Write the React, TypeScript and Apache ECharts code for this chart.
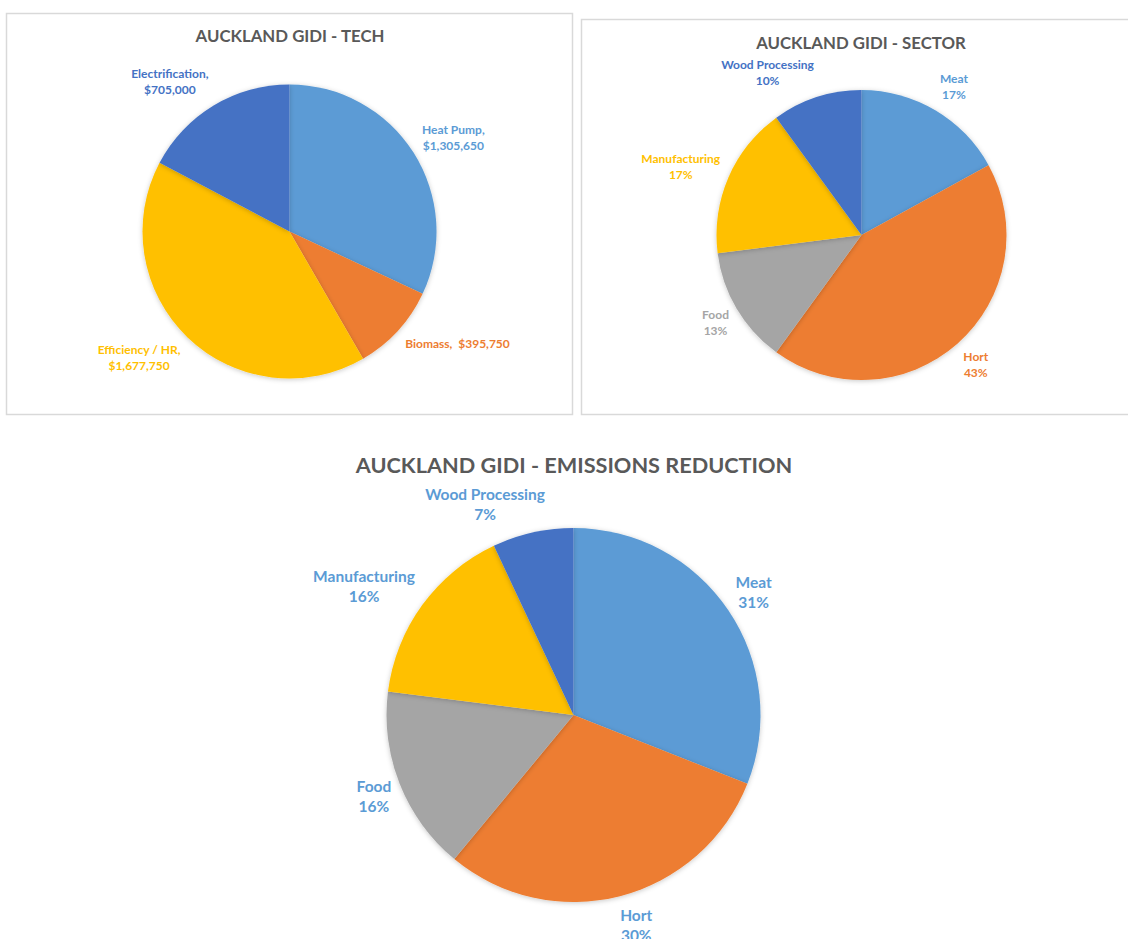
import { useEffect, useRef } from "react";
import * as echarts from "echarts";

// Funding by technology (NZD)
const techNames = ["Heat Pump", "Biomass", "Efficiency / HR", "Electrification"];
const techValues = [1305650, 395750, 1677750, 705000];
const techColors = ["#5B9BD5", "#ED7D31", "#FFC000", "#4472C4"];
// labels that stay on one line
const techOneLine = ["Biomass"];

// Sector split and emissions reduction split (%)
const sectorNames = ["Meat", "Hort", "Food", "Manufacturing", "Wood Processing"];
const sectorShares = [17, 43, 13, 17, 10];
const emissionShares = [31, 30, 16, 16, 7];
const sectorColors = ["#5B9BD5", "#ED7D31", "#A5A5A5", "#FFC000", "#4472C4"];

const titles = [
  "AUCKLAND GIDI - TECH",
  "AUCKLAND GIDI - SECTOR",
  "AUCKLAND GIDI - EMISSIONS REDUCTION",
];

const FONT = "Lato, 'Open Sans', sans-serif";
const TITLE_COLOR = "#595959";

let measureCtx: CanvasRenderingContext2D | null = null;

// Size of a (possibly multi-line) label block.
function textBox(text: string, font: string, lineHeight: number) {
  if (!measureCtx) measureCtx = document.createElement("canvas").getContext("2d");
  const lines = text.split("\n");
  let w = 0;
  if (measureCtx) {
    measureCtx.font = font;
    for (const l of lines) w = Math.max(w, measureCtx.measureText(l).width);
  }
  return { w, h: lines.length * lineHeight };
}

const clamp1 = (v: number) => Math.max(-1, Math.min(1, v));

// Outside-end labels: an anchor sits on the slice's mid-angle ray a little
// beyond the rim, and the label block hangs off it away from the pie.
function outsideLabels(
  cx: number,
  cy: number,
  r: number,
  gap: number,
  values: number[],
  font: string,
  lineHeight: number
) {
  const total = values.reduce((a, b) => a + b, 0);
  const mids: number[] = [];
  let acc = 0;
  for (const v of values) {
    mids.push(((acc + v / 2) / total) * Math.PI * 2);
    acc += v;
  }
  return (p: any) => {
    const th = mids[p.dataIndex];
    const { w, h } = textBox(p.text, font, lineHeight);
    const s = Math.sin(th);
    const c = Math.cos(th);
    const ax = cx + (r + gap) * s;
    const ay = cy - (r + gap) * c;
    return {
      x: ax + clamp1(3.5 * s) * (w / 2),
      y: ay - clamp1(1.15 * c) * (h / 2),
      align: "center",
      verticalAlign: "middle",
    };
  };
}

const money = (v: number) => "$" + v.toLocaleString("en-US");

const sliceShadow = {
  shadowBlur: 5,
  shadowColor: "rgba(0,0,0,0.22)",
  shadowOffsetY: 1,
};

export default function App() {
  const ref = useRef<HTMLDivElement>(null);

  useEffect(() => {
    document.body.style.margin = "0";
    const chart = echarts.init(ref.current!, null, { renderer: "svg" });

    const tech = { cx: 289.5, cy: 231.5, r: 147 };
    const sector = { cx: 861.5, cy: 235, r: 145 };
    const emis = { cx: 573.5, cy: 715, r: 187 };

    const smallFont = `bold 12px ${FONT}`;
    const bigFont = `bold 15.5px ${FONT}`;

    chart.setOption({
      animation: false,
      backgroundColor: "#ffffff",
      graphic: [
        {
          type: "rect",
          shape: { x: 6.5, y: 13.5, width: 566, height: 401 },
          style: { fill: "none", stroke: "#d9d9d9", lineWidth: 1.5 },
          z: -1,
        },
        {
          type: "rect",
          shape: { x: 581.5, y: 19.5, width: 580, height: 395 },
          style: { fill: "none", stroke: "#d9d9d9", lineWidth: 1.5 },
          z: -1,
        },
        {
          type: "text",
          x: 290,
          y: 35,
          style: {
            text: titles[0],
            fill: TITLE_COLOR,
            font: `bold 16.8px ${FONT}`,
            align: "center",
            verticalAlign: "middle",
          },
        },
        {
          type: "text",
          x: 861,
          y: 42,
          style: {
            text: titles[1],
            fill: TITLE_COLOR,
            font: `bold 16.8px ${FONT}`,
            align: "center",
            verticalAlign: "middle",
          },
        },
        {
          type: "text",
          x: 574,
          y: 465,
          style: {
            text: titles[2],
            fill: TITLE_COLOR,
            font: `bold 21.7px ${FONT}`,
            align: "center",
            verticalAlign: "middle",
          },
        },
      ],
      series: [
        {
          type: "pie",
          center: [tech.cx, tech.cy],
          radius: tech.r,
          startAngle: 90,
          clockwise: true,
          silent: true,
          itemStyle: { borderWidth: 0, ...sliceShadow },
          label: {
            show: true,
            position: "outside",
            overflow: "none",
            fontFamily: FONT,
            fontWeight: "bold",
            fontSize: 12,
            lineHeight: 16,
            formatter: (p: any) =>
              techOneLine.includes(p.name)
                ? `${p.name},  ${money(p.value)}`
                : `${p.name},\n${money(p.value)}`,
          },
          labelLine: { show: false },
          labelLayout: outsideLabels(tech.cx, tech.cy, tech.r, 10, techValues, smallFont, 16),
          data: techNames.map((n, i) => ({
            name: n,
            value: techValues[i],
            itemStyle: { color: techColors[i] },
            label: { color: techColors[i] },
          })),
        },
        {
          type: "pie",
          center: [sector.cx, sector.cy],
          radius: sector.r,
          startAngle: 90,
          clockwise: true,
          silent: true,
          itemStyle: { borderWidth: 0, ...sliceShadow },
          label: {
            show: true,
            position: "outside",
            overflow: "none",
            fontFamily: FONT,
            fontWeight: "bold",
            fontSize: 12,
            lineHeight: 16,
            formatter: (p: any) => `${p.name}\n${Math.round(p.percent)}%`,
          },
          labelLine: { show: false },
          labelLayout: outsideLabels(sector.cx, sector.cy, sector.r, 9, sectorShares, smallFont, 16),
          data: sectorNames.map((n, i) => ({
            name: n,
            value: sectorShares[i],
            itemStyle: { color: sectorColors[i] },
            label: { color: sectorColors[i] },
          })),
        },
        {
          type: "pie",
          center: [emis.cx, emis.cy],
          radius: emis.r,
          startAngle: 90,
          clockwise: true,
          silent: true,
          itemStyle: { borderWidth: 0, ...sliceShadow },
          label: {
            show: true,
            position: "outside",
            overflow: "none",
            color: "#5B9BD5",
            fontFamily: FONT,
            fontWeight: "bold",
            fontSize: 15.5,
            lineHeight: 20,
            formatter: (p: any) => `${p.name}\n${Math.round(p.percent)}%`,
          },
          labelLine: { show: false },
          labelLayout: outsideLabels(emis.cx, emis.cy, emis.r, 9, emissionShares, bigFont, 20),
          data: sectorNames.map((n, i) => ({
            name: n,
            value: emissionShares[i],
            itemStyle: { color: sectorColors[i] },
          })),
        },
      ],
    });

    return () => chart.dispose();
  }, []);

  return <div ref={ref} style={{ width: 1128, height: 939 }} />;
}
